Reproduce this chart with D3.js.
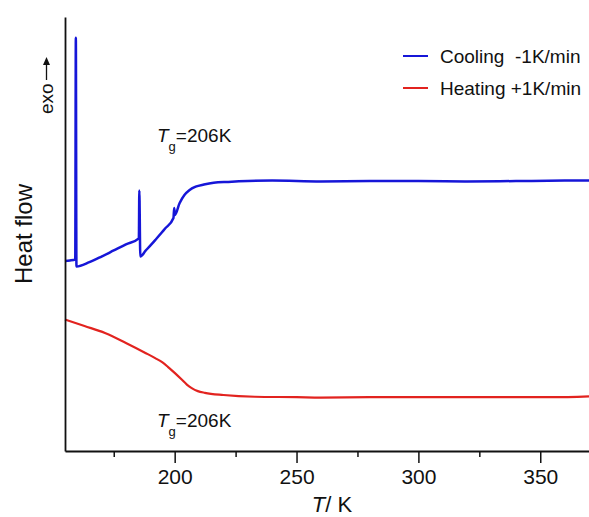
<!DOCTYPE html>
<html>
<head>
<meta charset="utf-8">
<script src="https://cdn.jsdelivr.net/npm/d3@7"></script>
<style>
  html, body { margin: 0; padding: 0; background: #fff; }
  svg { display: block; font-family: "Liberation Sans", Arial, Helvetica, sans-serif; }
</style>
</head>
<body>
<svg id="chart" width="589" height="517"></svg>
<script>
// Temperature (K) and heat flow (arbitrary units, exo up)
const coolingT = [155, 157, 159.2, 159.45, 159.7, 165, 170, 175, 180, 185.3, 185.5, 185.9, 188, 192, 196, 199.5, 199.8, 200.1, 202, 204, 206, 208.6, 212, 216, 222, 230, 240, 260, 280, 300, 320, 340, 360, 370];
const coolingHF = [43.8, 43.9, 44.1, 95.2, 42.5, 43.5, 44.8, 46.2, 47.6, 49.0, 60.0, 44.8, 46.1, 48.6, 51.2, 53.7, 56.0, 54.4, 57.1, 59.0, 60.1, 60.9, 61.4, 61.8, 62.0, 62.2, 62.3, 62.1, 62.2, 62.2, 62.1, 62.2, 62.3, 62.3];

const heatingT = [155, 163, 171.4, 180, 188, 192, 195, 197.2, 200, 203, 205, 207, 209.5, 212.4, 220, 232.9, 250, 260, 280, 300, 320, 340, 355, 370];
const heatingHF = [30.3, 28.8, 27.2, 24.9, 22.6, 21.4, 20.4, 19.4, 18.0, 16.4, 15.3, 14.5, 13.8, 13.4, 12.9, 12.5, 12.4, 12.3, 12.4, 12.4, 12.4, 12.4, 12.4, 12.6];

const majorTicks = [200, 250, 300, 350];
const minorTicks = [175, 225, 275, 325];

const seriesNames = ["Cooling  -1K/min", "Heating +1K/min"];
const seriesColors = ["#1616d8", "#e2231f"];
const tgLabel = "206K";

const svg = d3.select("#chart");
const mLeft = 65, mRight = 589, mTop = 17, mBottom = 451;

const x = d3.scaleLinear().domain([155, 370]).range([mLeft, mRight]);
const y = d3.scaleLinear().domain([0, 100]).range([mBottom, mTop]);

// Curves
const line = d3.line().x(d => x(d[0])).y(d => y(d[1])).curve(d3.curveMonotoneX);
const cooling = coolingT.map((t, i) => [t, coolingHF[i]]);
const heating = heatingT.map((t, i) => [t, heatingHF[i]]);

svg.append("path").datum(heating)
  .attr("d", line).attr("fill", "none")
  .attr("stroke", seriesColors[1]).attr("stroke-width", 2.2)
  .attr("stroke-linejoin", "round");
svg.append("path").datum(cooling)
  .attr("d", line).attr("fill", "none")
  .attr("stroke", seriesColors[0]).attr("stroke-width", 2.5)
  .attr("stroke-linejoin", "round");

// X axis with major and minor ticks
const xAxis = svg.append("g").attr("transform", `translate(0,${mBottom})`)
  .call(d3.axisBottom(x).tickValues(majorTicks).tickSize(12).tickSizeOuter(0).tickPadding(6).tickFormat(d3.format("d")));
xAxis.select(".domain").attr("stroke", "#111").attr("stroke-width", 1.8);
xAxis.selectAll(".tick line").attr("stroke", "#111").attr("stroke-width", 1.5);
xAxis.selectAll(".tick text").attr("font-size", 21).attr("fill", "#111")
  .attr("font-family", "'Liberation Sans', Arial, sans-serif");

const xMinor = svg.append("g").attr("transform", `translate(0,${mBottom})`)
  .call(d3.axisBottom(x).tickValues(minorTicks).tickSize(6).tickSizeOuter(0).tickFormat(""));
xMinor.select(".domain").remove();
xMinor.selectAll(".tick line").attr("stroke", "#111").attr("stroke-width", 1.5);

// Y axis (no ticks)
const yAxis = svg.append("g").attr("transform", `translate(${mLeft},0)`)
  .call(d3.axisLeft(y).tickValues([]).tickSizeOuter(0));
yAxis.select(".domain").attr("stroke", "#111").attr("stroke-width", 1.8);

// X axis title
const xt = svg.append("text").attr("x", 332).attr("y", 512)
  .attr("text-anchor", "middle").attr("font-size", 22).attr("fill", "#111");
xt.append("tspan").attr("font-style", "italic").text("T");
xt.append("tspan").text("/ K");

// Y axis title
svg.append("text")
  .attr("transform", "translate(32,234) rotate(-90)")
  .attr("text-anchor", "middle").attr("font-size", 24).attr("fill", "#111")
  .text("Heat flow");

// exo arrow
svg.append("text")
  .attr("transform", "translate(53,114) rotate(-90)")
  .attr("text-anchor", "start").attr("font-size", 19).attr("fill", "#111")
  .text("exo");
svg.append("line").attr("x1", 46.5).attr("x2", 46.5).attr("y1", 80).attr("y2", 60)
  .attr("stroke", "#111").attr("stroke-width", 1.3);
svg.append("path").attr("d", "M46.5,57 L43,65 L50,65 Z").attr("fill", "#111");

// Tg labels
function tg(xp, yp) {
  const t = svg.append("text").attr("x", xp).attr("y", yp).attr("font-size", 19).attr("fill", "#111");
  t.append("tspan").attr("font-style", "italic").text("T");
  t.append("tspan").attr("font-size", 13).attr("dy", 9).text("g");
  t.append("tspan").attr("dy", -9).text("=" + tgLabel);
}
tg(157, 141.5);
tg(157, 426.5);

// Legend
const legendY = [56, 88];
seriesNames.forEach((name, i) => {
  svg.append("line").attr("x1", 403).attr("x2", 428)
    .attr("y1", legendY[i]).attr("y2", legendY[i])
    .attr("stroke", seriesColors[i]).attr("stroke-width", 2);
  svg.append("text").attr("x", 440).attr("y", legendY[i] + 7)
    .attr("font-size", 19).attr("fill", "#111")
    .attr("xml:space", "preserve").style("white-space", "pre")
    .text(name);
});
</script>
</body>
</html>
